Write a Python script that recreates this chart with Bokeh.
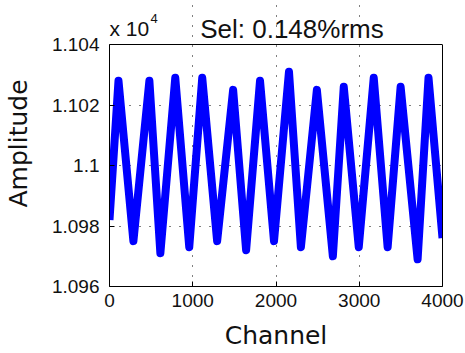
from bokeh.plotting import figure
from bokeh.models import FixedTicker, Range1d, Label, LinearAxis, Span
from bokeh.embed import file_html
from bokeh.resources import INLINE

channels = [0, 108, 287, 479, 611, 790, 958, 1114, 1293, 1485, 1641, 1808, 1976,
            2156, 2299, 2491, 2683, 2814, 2994, 3174, 3341, 3497, 3701, 3832, 4000]
amplitude = [10982, 11028, 10975, 11028, 10971, 11029, 10973, 11029, 10975, 11025,
             10972, 11028, 10975, 11031, 10973, 11025, 10970, 11026, 10973, 11029,
             10973, 11026, 10969, 11029, 10976]

x_ticks = [0, 1000, 2000, 3000, 4000]
y_ticks = [10960, 10980, 11000, 11020, 11040]
y_tick_labels = ["1.096", "1.098", "1.1", "1.102", "1.104"]

title_text = "Sel: 0.148%rms"
exp_text = "x 10"
exp_power = "4"
x_label = "Channel"
y_label = "Amplitude"

X_MIN, X_MAX = 0, 4000
Y_MIN, Y_MAX = 10960, 11040

# layout (pixels)
W, H = 465, 353
BORDER_L, BORDER_R, BORDER_B = 108, 23, 67
BOX_TOP_PX = 44                      # top of the axes box from the canvas top
frame_h = H - BORDER_B               # frame runs from the canvas top
px_per_unit = (frame_h - BOX_TOP_PX) / (Y_MAX - Y_MIN)
y_end = Y_MIN + frame_h / px_per_unit
ch_per_px = (X_MAX - X_MIN) / (W - BORDER_L - BORDER_R)


def ty(px_from_top):
    return Y_MAX + (BOX_TOP_PX - px_from_top) / px_per_unit


def tx(px_from_left):
    return X_MIN + (px_from_left - BORDER_L) * ch_per_px


TICK_FONT = "Liberation Sans"
TITLE_FONT = "Liberation Sans"
LABEL_FONT = "DejaVu Sans"
TXT = "#111111"

p = figure(width=W, height=H, output_backend="svg", toolbar_location=None,
           x_range=Range1d(X_MIN, X_MAX), y_range=Range1d(Y_MIN, y_end),
           min_border_left=BORDER_L, min_border_right=BORDER_R, min_border_top=0,
           min_border_bottom=BORDER_B)

p.outline_line_color = None
p.background_fill_color = "white"
p.border_fill_color = "white"

p.line(channels, amplitude, line_color="#0000FF", line_width=8, line_join="round")

for ax in (p.xaxis, p.yaxis):
    ax.axis_line_color = "black"
    ax.major_tick_in = 5
    ax.major_tick_out = 0
    ax.minor_tick_line_color = None
    ax.major_tick_line_color = "black"
    ax.major_label_text_font = TICK_FONT
    ax.major_label_text_font_size = "19px"
    ax.major_label_text_color = TXT
    ax.axis_label_text_font = LABEL_FONT
    ax.axis_label_text_font_size = "25px"
    ax.axis_label_text_font_style = "normal"
    ax.axis_label_text_color = TXT

p.xaxis.ticker = FixedTicker(ticks=x_ticks)
p.yaxis.ticker = FixedTicker(ticks=y_ticks)
p.yaxis.bounds = (Y_MIN, Y_MAX)
p.yaxis.major_label_overrides = {t: l for t, l in zip(y_ticks, y_tick_labels)}
p.xaxis.axis_label = x_label
p.yaxis.axis_label = y_label
p.xaxis.major_label_standoff = 7
p.yaxis.major_label_standoff = 10
p.xaxis.axis_label_standoff = 11
p.yaxis.axis_label_standoff = 16

# right and top edges of the box
right_ax = LinearAxis(ticker=FixedTicker(ticks=[]), bounds=(Y_MIN, Y_MAX),
                      axis_line_color="black", major_tick_line_color=None,
                      minor_tick_line_color=None)
p.add_layout(right_ax, "right")
p.add_layout(Span(location=Y_MAX, dimension="width", line_color="black",
                  line_width=1))

for g in (p.xgrid, p.ygrid):
    g.grid_line_color = "black"
    g.grid_line_dash = "1 9"
    g.grid_line_width = 1
p.xgrid.ticker = FixedTicker(ticks=x_ticks)
p.ygrid.ticker = FixedTicker(ticks=y_ticks)
p.xgrid.bounds = (Y_MIN, Y_MAX)
p.ygrid.bounds = (X_MIN, X_MAX)

p.add_layout(Label(x=tx(291), y=ty(28), text=title_text, text_font=TITLE_FONT,
                   text_font_size="26px", text_align="center",
                   text_baseline="alphabetic", text_color=TXT))
p.add_layout(Label(x=tx(108), y=ty(28), text=exp_text, text_font=TICK_FONT,
                   text_font_size="21px", text_align="left",
                   text_baseline="alphabetic", text_color=TXT))
p.add_layout(Label(x=tx(149), y=ty(18), text=exp_power, text_font=TICK_FONT,
                   text_font_size="13px", text_align="left",
                   text_baseline="alphabetic", text_color=TXT))

open("out.html", "w").write(file_html(p, INLINE))
